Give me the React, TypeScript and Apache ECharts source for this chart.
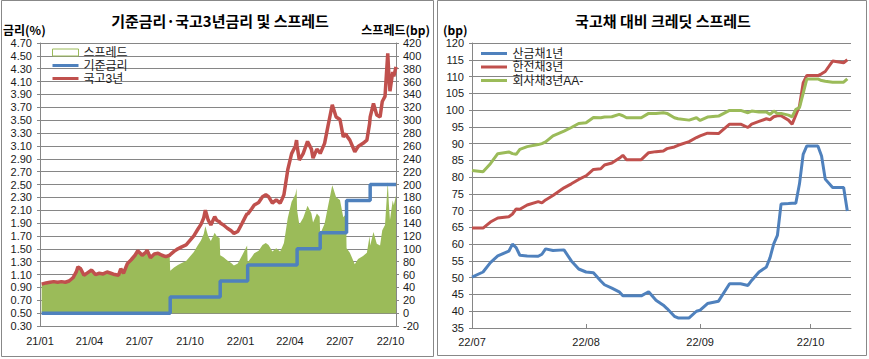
import React, { useEffect, useRef } from "react";
import * as echarts from "echarts";

const FONT = '"Noto Sans CJK KR", "Noto Sans", sans-serif';
const NUMFONT = '"Liberation Sans", Arial, sans-serif';
const LEGENDFONT = '"Liberation Sans", "Noto Sans CJK KR", sans-serif';

// ---------- Left chart: 기준금리·국고3년금리 및 스프레드 ----------
const leftOrigin = "2021-01-01";
const leftEnd = "2022-10-11";
const leftTickDates = ["2021-01-01", "2021-04-01", "2021-07-01", "2021-10-01", "2022-01-01", "2022-04-01", "2022-07-01", "2022-10-01"];
const leftTickLabels = ["21/01", "21/04", "21/07", "21/10", "22/01", "22/04", "22/07", "22/10"];

const ktbDates = [
  "2021-01-04", "2021-01-12", "2021-01-19", "2021-01-26", "2021-02-02", "2021-02-09", "2021-02-16", "2021-02-23",
  "2021-03-02", "2021-03-08", "2021-03-11", "2021-03-16", "2021-03-22", "2021-03-29", "2021-04-05", "2021-04-12",
  "2021-04-19", "2021-04-26", "2021-05-03", "2021-05-10", "2021-05-17", "2021-05-24", "2021-05-28", "2021-06-02",
  "2021-06-09", "2021-06-16", "2021-06-23", "2021-06-28", "2021-07-06", "2021-07-12", "2021-07-15", "2021-07-21",
  "2021-07-28", "2021-08-04", "2021-08-11", "2021-08-18", "2021-08-25", "2021-08-26", "2021-09-02", "2021-09-09",
  "2021-09-16", "2021-09-24", "2021-10-01", "2021-10-08", "2021-10-15", "2021-10-21", "2021-10-26", "2021-10-29",
  "2021-11-03", "2021-11-08", "2021-11-15", "2021-11-19", "2021-11-24", "2021-11-25", "2021-12-01", "2021-12-08",
  "2021-12-15", "2021-12-20", "2021-12-27", "2022-01-04", "2022-01-10", "2022-01-13", "2022-01-14", "2022-01-21",
  "2022-01-26", "2022-02-03", "2022-02-10", "2022-02-16", "2022-02-21", "2022-02-28", "2022-03-07", "2022-03-14",
  "2022-03-18", "2022-03-21", "2022-03-28", "2022-04-04", "2022-04-11", "2022-04-13", "2022-04-14", "2022-04-18",
  "2022-04-25", "2022-05-03", "2022-05-10", "2022-05-13", "2022-05-20", "2022-05-25", "2022-05-26", "2022-06-03",
  "2022-06-09", "2022-06-17", "2022-06-24", "2022-07-01", "2022-07-07", "2022-07-12", "2022-07-13", "2022-07-19",
  "2022-07-28", "2022-08-03", "2022-08-12", "2022-08-19", "2022-08-24", "2022-08-25", "2022-08-31", "2022-09-06",
  "2022-09-12", "2022-09-16", "2022-09-21", "2022-09-26", "2022-09-28", "2022-09-30", "2022-10-05", "2022-10-07",
  "2022-10-11",
];

// 국고3년 (%)
const ktb3y = [
  0.95, 0.97, 0.98, 0.99, 0.98, 0.99, 0.98, 1.0,
  1.05, 1.14, 1.22, 1.19, 1.09, 1.13, 1.17, 1.1,
  1.12, 1.11, 1.14, 1.12, 1.1, 1.09, 1.19, 1.12,
  1.27, 1.33, 1.4, 1.47, 1.4, 1.44, 1.48, 1.36,
  1.42, 1.43, 1.4, 1.38, 1.4, 1.41, 1.46, 1.5,
  1.53, 1.56, 1.63, 1.7, 1.8, 1.88, 1.98, 2.1,
  1.95, 1.87, 2.0, 1.94, 1.92, 1.9, 1.87, 1.82,
  1.78, 1.74, 1.77, 1.9, 2.0, 2.05, 2.04, 2.12,
  2.18, 2.22, 2.31, 2.34, 2.31, 2.21, 2.26, 2.21,
  2.28, 2.34, 2.73, 2.98, 3.1, 3.19, 3.1, 2.88,
  2.98, 3.17, 3.05, 2.91, 3.05, 3.0, 2.98, 3.14,
  3.4, 3.74, 3.55, 3.51, 3.24, 3.29, 3.26, 3.19,
  3.01, 3.09, 3.14, 3.19, 3.45, 3.55, 3.76, 3.58,
  3.55, 3.79, 3.87, 4.54, 4.2, 3.95, 4.25, 4.18,
  4.33,
];

// 스프레드 (bp)
const spreadBp = [
  45, 47, 48, 49, 48, 49, 48, 50,
  55, 64, 72, 69, 59, 63, 67, 60,
  62, 61, 64, 62, 60, 59, 69, 62,
  77, 83, 90, 97, 90, 94, 98, 86,
  92, 93, 90, 88, 90, 66, 71, 75,
  78, 81, 88, 95, 105, 113, 123, 135,
  120, 112, 125, 119, 117, 90, 87, 82,
  78, 74, 77, 90, 100, 105, 79, 87,
  93, 97, 106, 109, 106, 96, 101, 96,
  103, 109, 148, 173, 185, 194, 160, 138,
  148, 167, 155, 141, 155, 150, 123, 139,
  165, 199, 180, 176, 149, 154, 101, 94,
  76, 84, 89, 94, 120, 105, 126, 108,
  105, 129, 137, 204, 170, 145, 175, 168,
  183,
];

// 기준금리 (%)
const baseDates = ["2021-01-04", "2021-08-26", "2021-11-25", "2022-01-14", "2022-04-14", "2022-05-26", "2022-07-13", "2022-08-25", "2022-10-11"];
const baseRate = [0.5, 0.75, 1.0, 1.25, 1.5, 1.75, 2.25, 2.5, 2.5];

// ---------- Right chart: 국고채 대비 크레딧 스프레드 ----------
const rightOrigin = "2022-07-01";
const rightEnd = "2022-10-12";
const rightTickDates = ["2022-07-01", "2022-08-01", "2022-09-01", "2022-10-01"];
const rightTickLabels = ["22/07", "22/08", "22/09", "22/10"];

const csDates = [
  "2022-07-01", "2022-07-04", "2022-07-06", "2022-07-08", "2022-07-11",
  "2022-07-12", "2022-07-13", "2022-07-14", "2022-07-16", "2022-07-19",
  "2022-07-20", "2022-07-21", "2022-07-23", "2022-07-26", "2022-07-28",
  "2022-07-30", "2022-08-01", "2022-08-03", "2022-08-05", "2022-08-06",
  "2022-08-08", "2022-08-10", "2022-08-11", "2022-08-12", "2022-08-16",
  "2022-08-18", "2022-08-20", "2022-08-22", "2022-08-23", "2022-08-25",
  "2022-08-26", "2022-08-29", "2022-08-31", "2022-09-01", "2022-09-03",
  "2022-09-06", "2022-09-09", "2022-09-12", "2022-09-14", "2022-09-15",
  "2022-09-17", "2022-09-19", "2022-09-20", "2022-09-21", "2022-09-22",
  "2022-09-23", "2022-09-25", "2022-09-26", "2022-09-27", "2022-09-28",
  "2022-09-29", "2022-09-30", "2022-10-03", "2022-10-04", "2022-10-05",
  "2022-10-07", "2022-10-10", "2022-10-11",
];

const kdb1y = [
  50.2, 51.7, 54.5, 56.5, 57.9,
  60.0, 59.0, 56.7, 56.5, 56.4,
  57.0, 58.6, 58.1, 58.3, 55.0,
  52.6, 51.7, 51.5, 49.0, 47.9,
  46.9, 45.8, 44.6, 44.6, 44.6,
  45.8, 43.3, 41.8, 40.8, 38.5,
  38.0, 38.0, 40.0, 40.3, 42.3,
  43.0, 48.2, 48.2, 47.7, 49.2,
  51.7, 53.2, 56.0, 60.1, 62.6,
  72.0, 72.1, 72.2, 72.2, 78.0,
  86.8, 89.3, 89.3, 86.3, 79.4,
  76.9, 76.9, 69.9,
];

const kepco3y = [
  64.8, 64.8, 66.6, 67.8, 68.2,
  69.0, 70.5, 70.4, 71.7, 72.7,
  72.3, 73.2, 74.5, 76.8, 78.0,
  79.3, 80.4, 82.3, 82.5, 83.6,
  84.2, 85.6, 86.5, 85.2, 85.2,
  87.3, 87.6, 87.8, 88.5, 89.0,
  89.5, 90.6, 91.8, 92.3, 93.1,
  93.0, 95.8, 95.8, 94.8, 95.8,
  96.6, 97.4, 97.1, 98.0, 98.3,
  98.3, 97.0, 95.8, 98.5, 101.2,
  108.1, 110.3, 110.3, 110.8, 111.5,
  114.6, 114.1, 115.0,
];

const corpAA3y = [
  82.0, 81.6, 84.0, 87.0, 87.5,
  87.0, 86.8, 88.3, 89.1, 89.7,
  90.0, 90.5, 92.3, 93.7, 94.8,
  96.0, 96.2, 97.8, 97.7, 97.9,
  98.0, 98.7, 98.3, 97.7, 97.7,
  99.0, 99.0, 99.2, 99.0, 97.7,
  97.4, 97.0, 97.7, 96.9, 97.9,
  98.2, 99.9, 99.9, 99.2, 99.7,
  99.4, 99.4, 98.7, 99.7, 99.0,
  99.0, 98.5, 98.0, 100.2, 100.7,
  105.0, 109.3, 109.3, 108.8, 108.6,
  108.3, 108.3, 109.3,
];

const BLUE = "#4F81BD";
const RED = "#C0504D";
const GREEN = "#9BBB59";
const GRID = "#868686";
const TXT = "#1a1a1a";

// thin bar (3px of 7px) legend icon; zero-length segments fix the bounding box
const LINE_ICON = "path://M0,0L0,0M0,2L26,2L26,5L0,5ZM26,7L26,7";

const dayOf = (s: string, origin: string) => Math.round((Date.parse(s) - Date.parse(origin)) / 86400000);

export default function App() {
  const ref = useRef<HTMLDivElement>(null);

  useEffect(() => {
    if (!ref.current) return;
    const chart = echarts.init(ref.current, undefined, { renderer: "svg" });

    const leftTicks = leftTickDates.map((d) => dayOf(d, leftOrigin));
    const leftLabelMap: Record<number, string> = {};
    leftTicks.forEach((t, i) => (leftLabelMap[t] = leftTickLabels[i]));
    const rightTicks = rightTickDates.map((d) => dayOf(d, rightOrigin));
    const rightLabelMap: Record<number, string> = {};
    rightTicks.forEach((t, i) => (rightLabelMap[t] = rightTickLabels[i]));

    // the rate axis shares the bp axis scale: bp = (rate - 0.50) * 100
    const rateToAxis = (r: number) => Math.round((r * 100 - 50) * 100) / 100;

    const axisLabelStyle = { fontSize: 11, color: TXT, fontFamily: NUMFONT };
    const axisLineStyle = { show: true, lineStyle: { color: GRID, width: 1 } };
    const legendText = { fontSize: 12, lineHeight: 13, color: TXT, fontFamily: LEGENDFONT };

    const option: any = {
      animation: false,
      backgroundColor: "#ffffff",
      textStyle: { fontFamily: FONT },
      grid: [
        { left: 40, top: 43, width: 356, height: 283 },
        { left: 472, top: 43, width: 379, height: 285 },
      ],
      xAxis: [
        {
          type: "value",
          gridIndex: 0,
          min: 0,
          max: dayOf(leftEnd, leftOrigin),
          axisLine: axisLineStyle,
          axisTick: { show: true, inside: true, length: 4, customValues: leftTicks, lineStyle: { color: GRID } },
          axisLabel: { ...axisLabelStyle, margin: 9, customValues: leftTicks, formatter: (v: number) => leftLabelMap[v] ?? "" },
          splitLine: { show: false },
        },
        {
          type: "value",
          gridIndex: 1,
          min: 0,
          max: dayOf(rightEnd, rightOrigin),
          axisLine: axisLineStyle,
          axisTick: { show: true, inside: true, length: 4, customValues: rightTicks, lineStyle: { color: GRID } },
          axisLabel: { ...axisLabelStyle, margin: 8, customValues: rightTicks, formatter: (v: number) => rightLabelMap[v] ?? "" },
          splitLine: { show: false },
        },
      ],
      yAxis: [
        {
          type: "value",
          gridIndex: 0,
          position: "left",
          min: -20,
          max: 420,
          interval: 20,
          axisLine: axisLineStyle,
          axisTick: { show: true, length: 3, lineStyle: { color: GRID } },
          axisLabel: { ...axisLabelStyle, margin: 8, formatter: (v: number) => ((v + 50) / 100).toFixed(2) },
          splitLine: { show: true, lineStyle: { color: GRID, width: 1 } },
        },
        {
          type: "value",
          gridIndex: 0,
          position: "right",
          min: -20,
          max: 420,
          interval: 20,
          axisLine: axisLineStyle,
          axisTick: { show: true, length: 3, lineStyle: { color: GRID } },
          axisLabel: { ...axisLabelStyle, margin: 7 },
          splitLine: { show: false },
        },
        {
          type: "value",
          gridIndex: 1,
          position: "left",
          min: 35,
          max: 120,
          interval: 5,
          axisLine: axisLineStyle,
          axisTick: { show: true, length: 3, lineStyle: { color: GRID } },
          axisLabel: { ...axisLabelStyle, margin: 8 },
          splitLine: { show: true, lineStyle: { color: GRID, width: 1 } },
        },
      ],
      legend: [
        {
          left: 52,
          top: 46,
          orient: "vertical",
          padding: 0,
          itemWidth: 26,
          itemHeight: 7,
          itemGap: 0,
          textStyle: legendText,
          data: [
            { name: "스프레드", icon: "rect", itemStyle: { color: "#ffffff", borderColor: GREEN, borderWidth: 1 } },
            { name: "기준금리", icon: LINE_ICON },
            { name: "국고3년", icon: LINE_ICON },
          ],
        },
        {
          left: 481,
          top: 47,
          orient: "vertical",
          padding: 0,
          itemWidth: 27,
          itemHeight: 7,
          itemGap: 0.5,
          textStyle: legendText,
          data: [
            { name: "산금채1년", icon: LINE_ICON },
            { name: "한전채3년", icon: LINE_ICON },
            { name: "회사채3년AA-", icon: LINE_ICON },
          ],
        },
      ],
      graphic: [
        { type: "rect", shape: { x: 1.5, y: 0.5, width: 432, height: 356 }, style: { fill: "none", stroke: "#888888", lineWidth: 1 }, silent: true },
        { type: "rect", shape: { x: 437.5, y: 0.5, width: 429, height: 355 }, style: { fill: "none", stroke: "#888888", lineWidth: 1 }, silent: true },
        { type: "text", x: 220, y: 20, style: { text: "기준금리·국고3년금리 및 스프레드", fontSize: 15, fontWeight: "bold", fontFamily: FONT, fill: "#000", align: "center", verticalAlign: "middle" } },
        { type: "text", x: 663, y: 20, style: { text: "국고채 대비 크레딧 스프레드", fontSize: 15, fontWeight: "bold", fontFamily: FONT, fill: "#000", align: "center", verticalAlign: "middle" } },
        { type: "text", x: 3, y: 29, style: { text: "금리(%)", fontSize: 12, fontWeight: "bold", fontFamily: FONT, fill: "#000", align: "left", verticalAlign: "middle" } },
        { type: "text", x: 430, y: 29, style: { text: "스프레드(bp)", fontSize: 12, fontWeight: "bold", fontFamily: FONT, fill: "#000", align: "right", verticalAlign: "middle" } },
        { type: "text", x: 443, y: 29, style: { text: "(bp)", fontSize: 12, fontWeight: "bold", fontFamily: FONT, fill: "#000", align: "left", verticalAlign: "middle" } },
      ],
      series: [
        {
          name: "스프레드",
          type: "line",
          xAxisIndex: 0,
          yAxisIndex: 1,
          symbol: "none",
          color: GREEN,
          lineStyle: { width: 0, color: GREEN },
          areaStyle: { color: GREEN, opacity: 1 },
          data: ktbDates.map((d, i) => [dayOf(d, leftOrigin), spreadBp[i]]),
          z: 1,
        },
        {
          name: "기준금리",
          type: "line",
          xAxisIndex: 0,
          yAxisIndex: 0,
          symbol: "none",
          step: "end",
          color: BLUE,
          lineStyle: { width: 3.5, color: BLUE },
          data: baseDates.map((d, i) => [dayOf(d, leftOrigin), rateToAxis(baseRate[i])]),
          z: 3,
        },
        {
          name: "국고3년",
          type: "line",
          xAxisIndex: 0,
          yAxisIndex: 0,
          symbol: "none",
          color: RED,
          lineStyle: { width: 3.5, color: RED },
          data: ktbDates.map((d, i) => [dayOf(d, leftOrigin), rateToAxis(ktb3y[i])]),
          z: 4,
        },
        {
          name: "산금채1년",
          type: "line",
          xAxisIndex: 1,
          yAxisIndex: 2,
          symbol: "none",
          color: BLUE,
          lineStyle: { width: 3, color: BLUE },
          data: csDates.map((d, i) => [dayOf(d, rightOrigin), kdb1y[i]]),
        },
        {
          name: "한전채3년",
          type: "line",
          xAxisIndex: 1,
          yAxisIndex: 2,
          symbol: "none",
          color: RED,
          lineStyle: { width: 3, color: RED },
          data: csDates.map((d, i) => [dayOf(d, rightOrigin), kepco3y[i]]),
        },
        {
          name: "회사채3년AA-",
          type: "line",
          xAxisIndex: 1,
          yAxisIndex: 2,
          symbol: "none",
          color: GREEN,
          lineStyle: { width: 3, color: GREEN },
          data: csDates.map((d, i) => [dayOf(d, rightOrigin), corpAA3y[i]]),
        },
      ],
    };

    chart.setOption(option);
    return () => chart.dispose();
  }, []);

  return (
    <div
      ref={ref}
      style={{ position: "fixed", left: 0, top: 0, width: 869, height: 359, background: "#ffffff" }}
    />
  );
}
